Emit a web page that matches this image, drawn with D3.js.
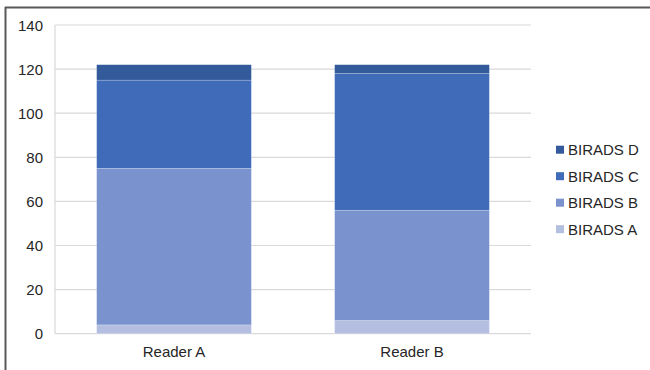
<!DOCTYPE html>
<html><head><meta charset="utf-8">
<script src="https://cdn.jsdelivr.net/npm/d3@7"></script>
<style>body{margin:0;background:#fff}svg{display:block}</style>
</head><body><svg id="c" width="650" height="370"></svg>
<script>
const categories = ["Reader A", "Reader B"];
const seriesNames = ["BIRADS A", "BIRADS B", "BIRADS C", "BIRADS D"];
const biradsA = [4, 6];
const biradsB = [71, 50];
const biradsC = [40, 62];
const biradsD = [7, 4];
const yTicks = [0, 20, 40, 60, 80, 100, 120, 140];
const colors = ["#b4bee0", "#7a92ce", "#3f6bb8", "#335a9b"];

const values = [biradsA, biradsB, biradsC, biradsD];
const rows = categories.map((c, i) => {
  const r = {cat: c};
  seriesNames.forEach((s, j) => r[s] = values[j][i]);
  return r;
});
const stack = d3.stack().keys(seriesNames)(rows);

const svg = d3.select("#c");
const font = "'Liberation Sans', Arial, sans-serif";
const m = {l: 55, r: 531, t: 25, b: 333.7};

const x = d3.scaleBand().domain(categories).range([m.l, m.r]).paddingInner(0.35).paddingOuter(0.175);
const y = d3.scaleLinear().domain([0, 140]).range([m.b, m.t]);

// outer frame (top + left)
svg.append("line").attr("x1", 5).attr("x2", 650).attr("y1", 7.5).attr("y2", 7.5).attr("stroke", "#595959").attr("stroke-width", 2);
svg.append("line").attr("x1", 5.5).attr("x2", 5.5).attr("y1", 7).attr("y2", 370).attr("stroke", "#595959").attr("stroke-width", 2);

// gridlines
svg.append("g").selectAll("line").data(yTicks).join("line")
  .attr("x1", m.l).attr("x2", m.r)
  .attr("y1", d => y(d)).attr("y2", d => y(d))
  .attr("stroke", "#d9d9d9").attr("stroke-width", 1.2);
svg.append("line").attr("x1", m.l).attr("x2", m.l).attr("y1", m.t).attr("y2", m.b)
  .attr("stroke", "#d9d9d9").attr("stroke-width", 1.2);

// bars
svg.append("g").selectAll("g").data(stack).join("g")
  .attr("fill", (d, i) => colors[i])
  .selectAll("rect").data(d => d).join("rect")
  .attr("x", d => x(d.data.cat))
  .attr("width", x.bandwidth())
  .attr("y", d => y(d[1]))
  .attr("height", d => y(d[0]) - y(d[1]))
  .attr("stroke", "rgba(255,255,255,0.35)").attr("stroke-width", 0.6);

// y axis
const ya = svg.append("g").attr("transform", `translate(${m.l - 12},0)`)
  .call(d3.axisLeft(y).tickValues(yTicks).tickSize(0).tickPadding(0));
ya.select(".domain").remove();
ya.selectAll("text").attr("font-family", font).attr("font-size", 15).attr("fill", "#262626").attr("dy", "0.35em");

// x axis
const xa = svg.append("g").attr("transform", `translate(0,${m.b})`)
  .call(d3.axisBottom(x).tickSize(0).tickPadding(13));
xa.select(".domain").remove();
xa.selectAll("text").attr("font-family", font).attr("font-size", 15).attr("fill", "#262626");

// legend
const legOrder = seriesNames.map((s, i) => i).reverse();
const leg = svg.append("g").selectAll("g").data(legOrder).join("g")
  .attr("transform", (d, k) => `translate(556,${149.7 + k * 26.5})`);
leg.append("rect").attr("x", 0).attr("y", -4).attr("width", 8).attr("height", 8).attr("fill", d => colors[d]);
leg.append("text").attr("x", 12).attr("dy", "0.36em").text(d => seriesNames[d])
  .attr("font-family", font).attr("font-size", 15).attr("fill", "#262626");
</script></body></html>
